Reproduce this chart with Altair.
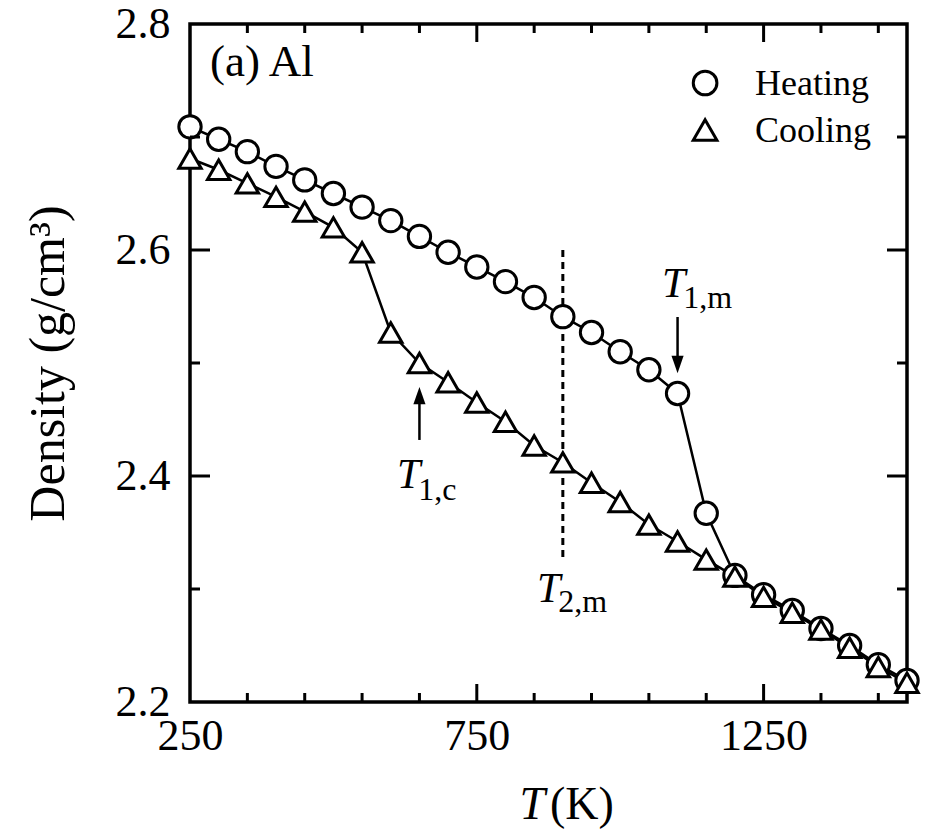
import altair as alt
import pandas as pd

# Temperature grid (K) shared by both runs
temps = [250, 300, 350, 400, 450, 500, 550, 600, 650, 700, 750, 800, 850,
         900, 950, 1000, 1050, 1100, 1150, 1200, 1250, 1300, 1350, 1400, 1450, 1500]

# Density (g/cm^3) while heating
heating = [2.709, 2.698, 2.687, 2.674, 2.662, 2.650, 2.638, 2.626, 2.612, 2.598,
           2.585, 2.572, 2.558, 2.541, 2.527, 2.510, 2.494, 2.473, 2.367, 2.312,
           2.295, 2.281, 2.265, 2.250, 2.233, 2.219]

# Density (g/cm^3) while cooling
cooling = [2.681, 2.671, 2.659, 2.647, 2.634, 2.620, 2.598, 2.527, 2.500, 2.483,
           2.465, 2.448, 2.427, 2.412, 2.394, 2.377, 2.357, 2.342, 2.326, 2.311,
           2.293, 2.279, 2.264, 2.248, 2.231, 2.217]

series_names = ["Heating", "Cooling"]
series_shapes = ["circle", "triangle-up"]

# Axis tick values
x_labels = [250, 750, 1250]
x_major = [750, 1250]
x_minor = [350, 450, 550, 650, 850, 950, 1050, 1150, 1350, 1450]
y_labels = [2.2, 2.4, 2.6, 2.8]
y_major = [2.4, 2.6]
y_minor = [2.3, 2.5, 2.7]

# Characteristic temperatures
T1m = 1100
T1c = 650
T2m = 900

W, H = 717, 678
FONT = "Liberation Serif"

df = pd.concat([
    pd.DataFrame({"T": temps, "rho": heating, "run": "Heating"}),
    pd.DataFrame({"T": temps, "rho": cooling, "run": "Cooling"}),
], ignore_index=True)

xscale = alt.Scale(domain=[250, 1500], nice=False, zero=False)
yscale = alt.Scale(domain=[2.2, 2.8], nice=False, zero=False)
shape_scale = alt.Scale(domain=series_names, range=series_shapes)

xaxis = alt.Axis(values=x_labels, format="d", ticks=False, domain=False, grid=False,
                 labelFont=FONT, labelFontSize=44, labelColor="black",
                 labelPadding=12, labelFlush=False, labelOverlap=False, title=None)
yaxis = alt.Axis(values=y_labels, format=".1f", ticks=False, domain=False, grid=False,
                 labelFont=FONT, labelFontSize=44, labelColor="black",
                 labelPadding=20, labelFlush=False, labelOverlap=False,
                 title="Density (g/cm³)", titleFont=FONT, titleFontSize=50,
                 titleFontWeight="normal", titleColor="black",
                 titleAngle=-90, titleAlign="center", titleBaseline="middle",
                 titleX=-142, titleY=H / 2)


def X(field):
    return alt.X(field, type="quantitative", scale=xscale, axis=xaxis)


def Y(field):
    return alt.Y(field, type="quantitative", scale=yscale, axis=yaxis)


marker_style = dict(filled=False, fill="white", fillOpacity=1, stroke="black",
                    strokeWidth=3, opacity=1)

lines = alt.Chart(df).mark_line(color="black", strokeWidth=2.5).encode(
    x=X("T"), y=Y("rho"), detail="run:N")

points = alt.Chart(df).mark_point(**marker_style).encode(
    x=X("T"), y=Y("rho"),
    shape=alt.Shape("run:N", scale=shape_scale, legend=None),
    size=alt.value(500))

# key in the upper right corner
key_df = pd.DataFrame({"run": series_names, "T": [1148, 1148], "r": [2.7478, 2.7062],
                       "tT": [1235, 1235], "tr": [2.7372, 2.6956]})
key_marks = alt.Chart(key_df).mark_point(**marker_style).encode(
    x=X("T"), y=Y("r"),
    shape=alt.Shape("run:N", scale=shape_scale, legend=None),
    size=alt.value(560))
key_text = alt.Chart(key_df).mark_text(
    font=FONT, fontSize=36, align="left", baseline="alphabetic", color="black").encode(
    x=X("tT"), y=Y("tr"), text="run:N")

# dotted marker at T2,m
dotted = alt.Chart(pd.DataFrame({"T": [T2m], "a": [2.6], "b": [2.324]})).mark_rule(
    color="black", strokeWidth=3, strokeDash=[7, 5]).encode(
    x=X("T"), y=Y("a"), y2="b")

# arrows
arrow_df = pd.DataFrame({"T": [T1m, T1c], "a": [2.5407, 2.4319], "b": [2.4991, 2.4708]})
shafts = alt.Chart(arrow_df).mark_rule(color="black", strokeWidth=2.5).encode(
    x=X("T"), y=Y("a"), y2="b")
head_down = alt.Chart(pd.DataFrame({"T": [T1m], "r": [2.4987]})).mark_point(
    shape="M-0.7,-1L0.7,-1L0,1Z", filled=True, color="black", size=300, opacity=1).encode(
    x=X("T"), y=Y("r"))
head_up = alt.Chart(pd.DataFrame({"T": [T1c], "r": [2.4712]})).mark_point(
    shape="M-0.7,1L0.7,1L0,-1Z", filled=True, color="black", size=300, opacity=1).encode(
    x=X("T"), y=Y("r"))


def label(tx, ry, text, size, italic=False):
    return alt.Chart(pd.DataFrame({"T": [tx], "r": [ry], "s": [text]})).mark_text(
        font=FONT, fontSize=size, fontStyle="italic" if italic else "normal",
        align="left", baseline="alphabetic", color="black").encode(
        x=X("T"), y=Y("r"), text="s:N")


texts = [
    label(285, 2.754, "(a) Al", 45),
    label(1073, 2.5584, "T", 42, True),
    label(1110, 2.5487, "1,m", 32),
    label(611, 2.3894, "T", 42, True),
    label(648, 2.3788, "1,c", 32),
    label(855, 2.2885, "T", 42, True),
    label(892, 2.2796, "2,m", 32),
]


# inward ticks on all four sides
def xticks(vals, length, top):
    d = pd.DataFrame({"T": vals})
    if top:
        return alt.Chart(d).mark_rule(color="black", strokeWidth=3).encode(
            x=X("T"), y=alt.value(0), y2=alt.value(length))
    return alt.Chart(d).mark_rule(color="black", strokeWidth=3).encode(
        x=X("T"), y=alt.value(H), y2=alt.value(H - length))


def yticks(vals, length, right):
    d = pd.DataFrame({"r": vals})
    if right:
        return alt.Chart(d).mark_rule(color="black", strokeWidth=3).encode(
            y=Y("r"), x=alt.value(W), x2=alt.value(W - length))
    return alt.Chart(d).mark_rule(color="black", strokeWidth=3).encode(
        y=Y("r"), x=alt.value(0), x2=alt.value(length))


ticks = [
    xticks(x_major, 18, False), xticks(x_minor, 9, False),
    xticks(x_major, 18, True), xticks(x_minor, 9, True),
    yticks(y_major, 20, False), yticks(y_minor, 10, False),
    yticks(y_major, 20, True), yticks(y_minor, 10, True),
]

# axis title T (K), italic T
xt_T = alt.Chart(pd.DataFrame({"s": ["T"]})).mark_text(
    font=FONT, fontSize=46, fontStyle="italic", align="right", baseline="alphabetic",
    color="black").encode(x=alt.value(355), y=alt.value(795), text="s:N")
xt_K = alt.Chart(pd.DataFrame({"s": ["(K)"]})).mark_text(
    font=FONT, fontSize=46, align="left", baseline="alphabetic",
    color="black").encode(x=alt.value(360), y=alt.value(795), text="s:N")

chart = alt.layer(
    dotted, lines, points, key_marks, key_text, shafts, head_down, head_up,
    *texts, *ticks, xt_T, xt_K
).properties(
    width=W, height=H,
    autosize=alt.AutoSizeParams(type="none"),
    padding={"left": 190, "top": 24, "right": 21, "bottom": 129},
    background="white",
).configure_view(stroke="black", strokeWidth=3.5)

chart.save("out.html", embed_options={"renderer": "svg", "actions": False})
